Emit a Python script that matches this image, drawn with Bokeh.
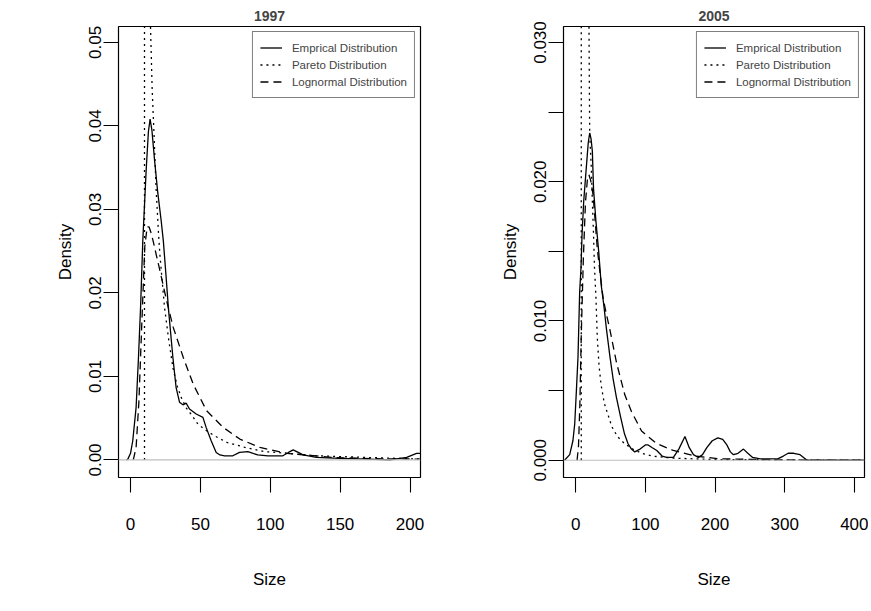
from bokeh.plotting import figure
from bokeh.layouts import row
from bokeh.models import FixedTicker, Span, Legend, LegendItem, Range1d
from bokeh.embed import file_html
from bokeh.resources import INLINE

FONT = "Liberation Sans"

# ---------------- 1997 ----------------
emp97_x = [-3, -1.9, 0, 1.6, 4.0, 5.7, 7.2, 8.8, 11.2, 12.8,
           14.0, 15.3, 17.2, 19.5, 21.9, 23.5, 25.2, 27.2, 30.3, 32.6,
           35.1, 37.5, 39.8, 42.2, 47, 51.8, 54.1, 57.7, 61.3, 64,
           67.3, 73.2, 78, 84, 91, 98.3, 109, 113, 116.4, 120,
           123.5, 133, 150, 170, 185.6, 197.6, 204.7, 208]
emp97_y = [0, 0.0001, 0.0008, 0.0023, 0.0063, 0.0123, 0.0183, 0.0263, 0.0347, 0.0393,
           0.0408, 0.0395, 0.0359, 0.032, 0.0287, 0.0262, 0.0225, 0.0180, 0.0123, 0.0087,
           0.0069, 0.0066, 0.0068, 0.0061, 0.0055, 0.0051, 0.0039, 0.0023, 0.0009, 0.0006,
           0.0005, 0.0005, 0.0009, 0.001, 0.0006, 0.0005, 0.0005, 0.0009, 0.0012, 0.0009,
           0.0006, 0.0003, 0.0002, 0.0001, 0.0, 0.0003, 0.0008, 0.0008]

par97_x = [10, 10, 13.5, 14.3, 15.5, 16.7, 18.3, 20, 21, 24.3,
           27.4, 30.4, 33.5, 36.5, 40, 43.7, 48.2, 54.4, 60, 69,
           82, 96, 104.5, 133, 169, 208]
par97_y = [0, 0.06, 0.058, 0.0519, 0.0443, 0.0395, 0.0325, 0.0272, 0.0246, 0.0183,
           0.0143, 0.0110, 0.0088, 0.0074, 0.0062, 0.0054, 0.0043, 0.0035, 0.0029, 0.0021,
           0.0015, 0.0010, 0.0009, 0.0005, 0.0003, 0.0001]

ln97_x = [2, 4, 6, 8, 10.2, 11.9, 13.3, 14.5, 16.2, 18.5,
          21, 25.8, 30.5, 37.7, 44.8, 54.4, 66.3, 78.2, 92.6, 111.7,
          145, 175, 208]
ln97_y = [0, 0.0015, 0.007, 0.016, 0.0255, 0.0279, 0.0279, 0.0273, 0.0262, 0.0245,
          0.0227, 0.0191, 0.0159, 0.0123, 0.0091, 0.0059, 0.0039, 0.0025, 0.0015, 0.0008,
          0.0003, 0.00015, 0.0001]

x97_ticks = [0, 50, 100, 150, 200]
x97_labels = ["0", "50", "100", "150", "200"]
y97_ticks = [0.0, 0.01, 0.02, 0.03, 0.04, 0.05]
y97_labels = ["0.00", "0.01", "0.02", "0.03", "0.04", "0.05"]

# ---------------- 2005 ----------------
emp05_x = [-16, -8.6, -4, -1.4, 1, 3.3, 5.7, 7.6, 9.1, 11.5,
           15.2, 18, 20.1, 22, 23.9, 25.6, 29, 33, 36.8, 40.2,
           44.2, 49, 53.8, 58.5, 64.5, 70, 75, 80, 84.8, 92.4,
           100, 104, 110, 116.4, 124, 130.5, 140.2, 148, 156.8, 163,
           169, 176, 182, 188.2, 196, 204, 211, 217, 222, 226.4,
           233, 240.8, 247, 254, 265, 280, 290, 298, 305, 313,
           322, 332, 415]
emp05_y = [0, 0.0004, 0.0014, 0.0026, 0.005, 0.0074, 0.0121, 0.0138, 0.0162, 0.0186,
           0.021, 0.0228, 0.0235, 0.0231, 0.0222, 0.0195, 0.0172, 0.015, 0.0125, 0.0112,
           0.0094, 0.0075, 0.0058, 0.0045, 0.0031, 0.0019, 0.0012, 0.0008, 0.0006, 0.0008,
           0.0011, 0.0011, 0.0009, 0.0007, 0.0003, 0.0002, 0.0002, 0.0008, 0.0017, 0.0009,
           0.0004, 0.0002, 0.0004, 0.0009, 0.0014, 0.0016, 0.0015, 0.0011, 0.0006, 0.0004,
           0.0005, 0.0008, 0.0005, 0.0002, 0.0001, 0.0001, 0.0001, 0.0003, 0.0005, 0.0005,
           0.0004, 0.0, 0.0]

par05_x = [8, 8, 18.0, 19.1, 19.6, 20.1, 22.4, 23.9, 25.6, 27,
           29, 31, 33.5, 36.5, 41, 45.5, 52, 60, 70, 82,
           95, 110, 140, 200, 415]
par05_y = [0, 0.036, 0.034, 0.031, 0.027, 0.0234, 0.021, 0.0186, 0.0162, 0.0138,
           0.0118, 0.0088, 0.0068, 0.0054, 0.0041, 0.0034, 0.0024, 0.0017, 0.0012, 0.0008,
           0.0005, 0.0003, 0.00015, 0.00005, 0]

ln05_x = [2, 4, 6, 8, 11, 14, 17, 19, 21.5, 24.9,
          27.3, 31, 35.3, 39.5, 44, 49, 58.6, 70.5, 80, 94.5,
          116, 140, 171, 207, 300, 415]
ln05_y = [0, 0.001, 0.004, 0.009, 0.0145, 0.0185, 0.0203, 0.0205, 0.0201, 0.0191,
          0.0176, 0.0152, 0.0133, 0.0116, 0.0105, 0.0094, 0.007, 0.0047, 0.0035, 0.0021,
          0.0012, 0.0007, 0.0003, 0.0001, 0.00002, 0]

x05_ticks = [0, 100, 200, 300, 400]
x05_labels = ["0", "100", "200", "300", "400"]
y05_ticks = [0.0, 0.005, 0.01, 0.015, 0.02, 0.025, 0.03]
y05_labels = ["0.000", "", "0.010", "", "0.020", "", "0.030"]

legend_labels = ["Emprical Distribution", "Pareto Distribution", "Lognormal Distribution"]


def panel(title, xr, yr, xt, xl, yt, yl, emp, par, ln, bl, br, fw):
    p = figure(x_range=Range1d(*xr), y_range=Range1d(*yr),
               frame_width=fw, frame_height=451,
               min_border_left=bl, min_border_right=br,
               min_border_top=26, min_border_bottom=125,
               output_backend="svg", toolbar_location=None)
    p.title.text = title
    p.title.align = "center"
    p.title.text_font = FONT
    p.title.text_font_size = "14px"
    p.title.text_font_style = "bold"
    p.title.standoff = 12
    p.grid.visible = False
    p.outline_line_color = "black"
    p.outline_line_width = 1.2
    p.background_fill_color = "white"
    p.border_fill_color = "white"

    for ax in (p.xaxis[0], p.yaxis[0]):
        ax.axis_line_color = None
        ax.major_tick_line_color = "black"
        ax.major_tick_line_width = 1.1
        ax.major_tick_out = 15
        ax.major_tick_in = 0
        ax.minor_tick_line_color = None
        ax.major_label_text_font = FONT
        ax.major_label_text_font_size = "17px"
        ax.major_label_text_color = "black"
        ax.axis_label_text_font = FONT
        ax.axis_label_text_font_size = "17px"
        ax.axis_label_text_font_style = "normal"
        ax.axis_label_text_color = "black"

    p.xaxis.ticker = FixedTicker(ticks=xt)
    p.xaxis.major_label_overrides = dict(zip(xt, xl))
    p.xaxis.major_label_standoff = 25
    p.xaxis.axis_label = "Size"
    p.xaxis.axis_label_standoff = 37

    p.yaxis.ticker = FixedTicker(ticks=yt)
    p.yaxis.major_label_overrides = dict(zip(yt, yl))
    p.yaxis.major_label_orientation = "vertical"
    p.yaxis.major_label_standoff = 2
    p.yaxis.axis_label = "Density"
    p.yaxis.axis_label_standoff = 12

    p.add_layout(Span(location=0, dimension="width", line_color="#BEBEBE", line_width=1.2))

    r1 = p.line(emp[0], emp[1], line_color="black", line_width=1.3)
    r2 = p.line(par[0], par[1], line_color="black", line_width=1.3, line_dash="2 4")
    r3 = p.line(ln[0], ln[1], line_color="black", line_width=1.3, line_dash="8 5")

    leg = Legend(items=[LegendItem(label=legend_labels[0], renderers=[r1]),
                        LegendItem(label=legend_labels[1], renderers=[r2]),
                        LegendItem(label=legend_labels[2], renderers=[r3])],
                 location="top_right")
    leg.margin = 5
    leg.padding = 7
    leg.spacing = 0
    leg.label_height = 17
    leg.glyph_height = 17
    leg.glyph_width = 22
    leg.label_standoff = 10
    leg.label_text_font = FONT
    leg.label_text_font_size = "11.5px"
    leg.border_line_color = "black"
    leg.border_line_width = 1.2
    leg.background_fill_color = "white"
    leg.background_fill_alpha = 1.0
    p.add_layout(leg)
    return p


p1 = panel("1997", (-8.6, 207.5), (-0.0021, 0.0519), x97_ticks, x97_labels, y97_ticks, y97_labels,
           (emp97_x, emp97_y), (par97_x, par97_y), (ln97_x, ln97_y), 118, 23, 302)
p2 = panel("2005", (-17.5, 414.5), (-0.00124, 0.03115), x05_ticks, x05_labels, y05_ticks, y05_labels,
           (emp05_x, emp05_y), (par05_x, par05_y), (ln05_x, ln05_y), 120, 4, 301)

layout = row(p1, p2)
open("out.html", "w").write(file_html(layout, INLINE))
